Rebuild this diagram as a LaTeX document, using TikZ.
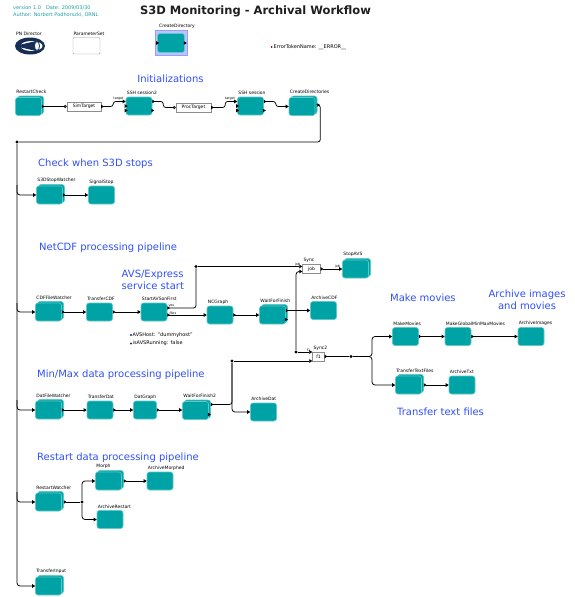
\documentclass[tikz,border=0pt]{standalone}
\usepackage{fontspec}
\setmainfont{DejaVu Sans}
\usetikzlibrary{arrows.meta,calc}
\definecolor{tealA}{RGB}{0,163,165}
\definecolor{tealB}{RGB}{95,200,202}
\definecolor{blueL}{RGB}{48,80,250}
\definecolor{hdr}{RGB}{30,160,165}
\definecolor{navy}{RGB}{22,45,85}
\definecolor{pdot}{RGB}{30,40,160}
\definecolor{selc}{RGB}{190,195,255}
\newcommand\kpR[1]{\fill #1 ++(-1,-1.8) -- ++(3,1.8) -- ++(-3,1.8) -- cycle;}
\newcommand\kstack[4]{%
  \node[actor] (#1b) at ([xshift=2pt,yshift=1.5pt]#2,#3) {};
  \node[actor,label={[lbls]north west:#4}] (#1) at (#2,#3) {};}
\begin{document}
\begin{tikzpicture}[x=1pt,y=-1pt,
  actor/.style={fill=tealA,draw=tealB,line width=0.6pt,rounded corners=2.5pt,minimum width=26pt,minimum height=18pt,inner sep=0pt},
  lbl/.style={font=\fontsize{4.5}{5}\selectfont,inner sep=0pt,anchor=south west,yshift=1.5pt,xshift=1pt},
  lbls/.style={lbl,yshift=1.5pt},
  plbl/.style={font=\fontsize{3.3}{4}\selectfont,inner sep=0pt},
  small/.style={font=\fontsize{5}{6}\selectfont,inner sep=0pt},
  sec/.style={font=\fontsize{10}{12}\selectfont,text=blueL,inner sep=0pt},
  pbox/.style={draw=black!45,fill=white,font=\fontsize{4.5}{5}\selectfont,minimum height=9pt,inner sep=0pt},
  wire/.style={line width=0.75pt,rounded corners=2.5pt,{Triangle[reversed,length=2.6pt,width=3.4pt]}-{Triangle[length=3pt,width=3.6pt]}},
  wireA/.style={line width=0.75pt,rounded corners=3pt,-{Triangle[length=3pt,width=3.6pt]}},
  wireB/.style={line width=0.75pt,rounded corners=2.5pt,{Triangle[reversed,length=2.6pt,width=3.4pt]}-},
  wireC/.style={line width=0.75pt,rounded corners=2.5pt,{Triangle[reversed,length=2.6pt,width=3.4pt]}-{Circle[open,length=3pt,width=3pt]}},
  jdot/.style={circle,fill=black,inner sep=0pt,minimum size=3.4pt},
]
\useasboundingbox (0,0) rectangle (574,597);
\fill[white] (0,0) rectangle (574,597);

% header
\node[small,text=hdr,anchor=west] (ver) at (13,7.5) {version 1.0\quad Date: 2009/03/30};
\node[small,text=hdr,anchor=west] (auth) at (13,14.5) {Author: Norbert Podhorszki, ORNL};
\node[font=\bfseries\fontsize{11.5}{14}\selectfont,text=black!88,inner sep=0pt] (title) at (255.5,11.5) {S3D Monitoring - Archival Workflow};

% PN Director
\node[small,font=\fontsize{4.5}{5}\selectfont,anchor=west] (pnl) at (16,33.5) {PN Director};
\fill[navy] (30,46) ellipse [x radius=15pt,y radius=8.5pt];
\fill[white] (31.5,46) ellipse [x radius=11pt,y radius=5pt];
\fill[navy] (19,45) -- (36,41) -- (36,51) -- (19,47) -- cycle;
\filldraw[fill=white,draw=navy,line width=0.8pt] (37,46) ellipse [x radius=2.5pt,y radius=4.5pt];

% ParameterSet
\node[small,font=\fontsize{4.5}{5}\selectfont,anchor=west] (psl) at (73.5,33.5) {ParameterSet};
\draw[black!40,fill=white,rounded corners=1pt] (73,37.5) rectangle (100,54);

% CreateDirectory (selected)
\filldraw[fill=selc,draw=selc!80!blue] (155,30.5) rectangle (187.5,55.5);
\node[actor,minimum width=27pt,minimum height=19pt] (createdir) at (171,43) {};
\node[lbl,anchor=south west] (cdl) at (158,30) {CreateDirectory};
\kpR{(createdir.west)}
\kpR{(createdir.east)}

% error token
\fill[red!60!black] (271.5,47) circle (1pt);
\node[small,anchor=west] (err) at (273.5,47) {ErrorTokenName: \_\_ERROR\_\_};

% section labels
\node[sec] (sInit) at (170.5,79) {Initializations};
\node[sec,anchor=west] (sCheck) at (38,163.5) {Check when S3D stops};
\node[sec,anchor=west] (sNet) at (39,247.5) {NetCDF processing pipeline};
\node[sec,anchor=west,align=left] (sAVS) at (121.5,279.5) {AVS/Express\\service start};
\node[sec,anchor=west] (sMM) at (390,298) {Make movies};
\node[sec,align=center] (sArch) at (527,299.5) {Archive images\\and movies};
\node[sec,anchor=west] (sMin) at (37,374.5) {Min/Max data processing pipeline};
\node[sec,anchor=west] (sTT) at (397,411.5) {Transfer text files};
\node[sec,anchor=west] (sRes) at (37,457.5) {Restart data processing pipeline};

% ---- Initializations row
\kstack{restartcheck}{28.5}{106.5}{RestartCheck}
\node[pbox,minimum width=34pt] (simtarget) at (84,106.5) {SimTarget};
\node[actor,label={[lbl]north west:SSH session2}] (ssh2) at (139,106) {};
\node[pbox,minimum width=35pt] (proctarget) at (193.5,107.5) {ProcTarget};
\node[actor,label={[lbl]north west:SSH session}] (ssh) at (250.5,106) {};
\kstack{createdirs}{302}{106.5}{CreateDirectories}
\kpR{(ssh2.west)} \kpR{([yshift=-4.5pt]ssh2.west)} \kpR{([yshift=-4.5pt]ssh2.east)}
\kpR{(ssh.west)} \kpR{([yshift=-4.5pt]ssh.west)} \kpR{([yshift=-4.5pt]ssh.east)}
\node[plbl,anchor=south east] (tg1) at ([xshift=-2pt,yshift=5.5pt]ssh2.west) {target};
\node[plbl,anchor=south east] (tg2) at ([xshift=-2pt,yshift=5.5pt]ssh.west) {target};

\draw[wireC] (restartcheck.east) -- (simtarget.west);
\draw[wire] (simtarget.east) -- ++(12,0) |- ([yshift=4.5pt]ssh2.west);
\draw[wireC] ([yshift=4.5pt]ssh2.east) -- ++(11,0) |- (proctarget.west);
\draw[wire] (proctarget.east) -- ++(14,0) |- ([yshift=4.5pt]ssh.west);
\draw[wire] ([yshift=4.5pt]ssh.east) -- ++(12,0) |- (createdirs.west);
\node[jdot] (j0) at (17,142) {};
\draw[wireB] (createdirsb.east) -- ++(3,0) |- (j0);

% ---- S3D stop row
\kstack{s3dstop}{49.5}{195}{S3DStopWatcher}
\node[actor,label={[lbl]north west:SignalStop}] (signalstop) at (101.5,195) {};
\draw[wire] (s3dstop.east) -- (signalstop.west);

% ---- NetCDF row
\kstack{cdfwatch}{48.5}{312}{CDFFileWatcher}
\node[actor,label={[lbl]north west:TransferCDF}] (transfercdf) at (99.5,312) {};
\node[actor,label={[lbl]north west:StartAVSonFirst}] (startavs) at (154,312) {};
\node[actor,label={[lbl]north west:NCGraph}] (ncgraph) at (220,315) {};
\kstack{waitfin}{272.5}{315}{WaitForFinish}
\node[actor,label={[lbl]north west:ArchiveCDF}] (archivecdf) at (323.5,310.5) {};
\node[pbox,minimum width=18pt,label={[lbl]north west:Sync}] (sync) at (311.5,269) {job};
\kstack{stopavs}{355.5}{269}{StopAVS}
\node[pbox,minimum width=12pt,label={[lbl]north west:Sync2}] (sync2) at (318.5,356.5) {f1};

\draw[wire] (cdfwatch.east) -- (transfercdf.west);
\draw[wire] (transfercdf.east) -- (startavs.west);
\node[jdot] (dA) at (196,266.5) {};
\draw[wireB] ([yshift=4pt]startavs.east) -| (dA);
\draw[wireA] (dA) -- ([yshift=2.5pt]sync.west);
\draw[wire] ([yshift=-3pt]startavs.east) -- (ncgraph.west);
\draw[wire] (ncgraph.east) -- (waitfin.west);
\coordinate (vt) at (296,310.5);
\draw[wireB] ([yshift=4.5pt]waitfin.east) -- (vt);
\draw[wireA] (vt) -- (archivecdf.west);
\node[jdot] (dB) at (296,352) {};
\draw[wireA] (dB) |- ([yshift=-2.5pt]sync.west);
\draw[wireA] (dB) -- ([yshift=4.5pt]sync2.west);
\draw[wire] (sync.east) -- (stopavs.west);
\kpR{([yshift=-4.5pt]waitfin.east)}
\node[plbl,anchor=south west] (ly) at ([xshift=1pt,yshift=4.6pt]startavs.east) {yes};
\node[plbl,anchor=south west] (lf) at ([xshift=2pt,yshift=-2.4pt]startavs.east) {files};
\node[plbl,anchor=south east] (lj1) at ([xshift=-2pt,yshift=3pt]sync.west) {job};
\node[plbl,anchor=south east] (lj2) at ([xshift=-2pt,yshift=0.6pt]stopavs.west) {job};
\node[plbl,anchor=south east] (lf1) at ([xshift=-2pt,yshift=5pt]sync2.west) {f1};

% AVS parameters
\fill[pdot] (131,335) circle (1.1pt);
\node[small,anchor=west] (p1) at (132.5,335) {AVSHost: "dummyhost"};
\fill[pdot] (131,343.5) circle (1.1pt);
\node[small,anchor=west] (p2) at (132.5,343.5) {isAVSRunning: false};

% ---- Min/Max row
\kstack{datwatch}{48.5}{410}{DatFileWatcher}
\node[actor,label={[lbl]north west:TransferDat}] (transferdat) at (100,410) {};
\node[actor,minimum width=23pt,label={[lbl]north west:DatGraph}] (datgraph) at (145,410) {};
\kstack{waitfin2}{195.5}{410.5}{WaitForFinish2}
\node[actor,label={[lbl]north west:ArchiveDat}] (archivedat) at (263.5,412) {};
\draw[wire] (datwatch.east) -- (transferdat.west);
\draw[wire] (transferdat.east) -- (datgraph.west);
\draw[wire] (datgraph.east) -- ([yshift=0.5pt]waitfin2.west);
\node[jdot] (dC) at (232,361) {};
\draw[wireB] ([yshift=4.5pt]waitfin2b.east) -| (dC);
\draw[wireA] (dC) -- ([yshift=-4.5pt]sync2.west);
\draw[wireA] (dC) |- (archivedat.west);
\kpR{([yshift=-4pt]waitfin2.east)}

% ---- Movies
\node[actor,label={[lbl]north west:MakeMovies}] (makemovies) at (405.5,336.5) {};
\node[actor,label={[lbl]north west:MakeGlobalMinMaxMovies}] (makeglobal) at (458,336.5) {};
\node[actor,label={[lbl]north west:ArchiveImages}] (archiveimages) at (531,336.5) {};
\kstack{transfertext}{408.5}{385}{TransferTextFiles}
\node[actor,label={[lbl]north west:ArchiveTxt}] (archivetxt) at (462,385) {};
\node[jdot] (dD) at (351,356.5) {};
\draw[wireB] (sync2.east) -- (dD);
\draw[wireA] (dD) -- ++(21,0) |- (makemovies.west);
\draw[wireA] (dD) -- ++(21,0) |- (transfertext.west);
\draw[wire] (makemovies.east) -- (makeglobal.west);
\draw[wire] (makeglobal.east) -- (archiveimages.west);
\draw[wire] (transfertextb.east |- transfertext.east) -- (archivetxt.west);

% ---- Restart
\kstack{restartwatch}{48.5}{502}{RestartWatcher}
\kstack{morph}{108.5}{481}{Morph}
\node[actor,label={[lbl]north west:ArchiveMorphed}] (archivemorphed) at (160,481) {};
\node[actor,label={[lbl]north west:ArchiveRestart}] (archiverestart) at (110,519.5) {};
\node[jdot] (dE) at (82,502) {};
\draw[wireB] (restartwatchb.east |- restartwatch.east) -- (dE);
\draw[wireA] (dE) |- (morph.west);
\draw[wireA] (dE) |- (archiverestart.west);
\draw[wire] (morphb.east |- morph.east) -- (archivemorphed.west);

% ---- Transfer input
\kstack{transferinput}{48.5}{586}{TransferInput}

% bus
\draw[wireA] (j0) |- (transferinput.west);
\draw[wireA] (17,185) |- (s3dstop.west);
\draw[wireA] (17,303) |- (cdfwatch.west);
\draw[wireA] (17,400) |- (datwatch.west);
\draw[wireA] (17,492) |- (restartwatch.west);
\end{tikzpicture}
\end{document}
